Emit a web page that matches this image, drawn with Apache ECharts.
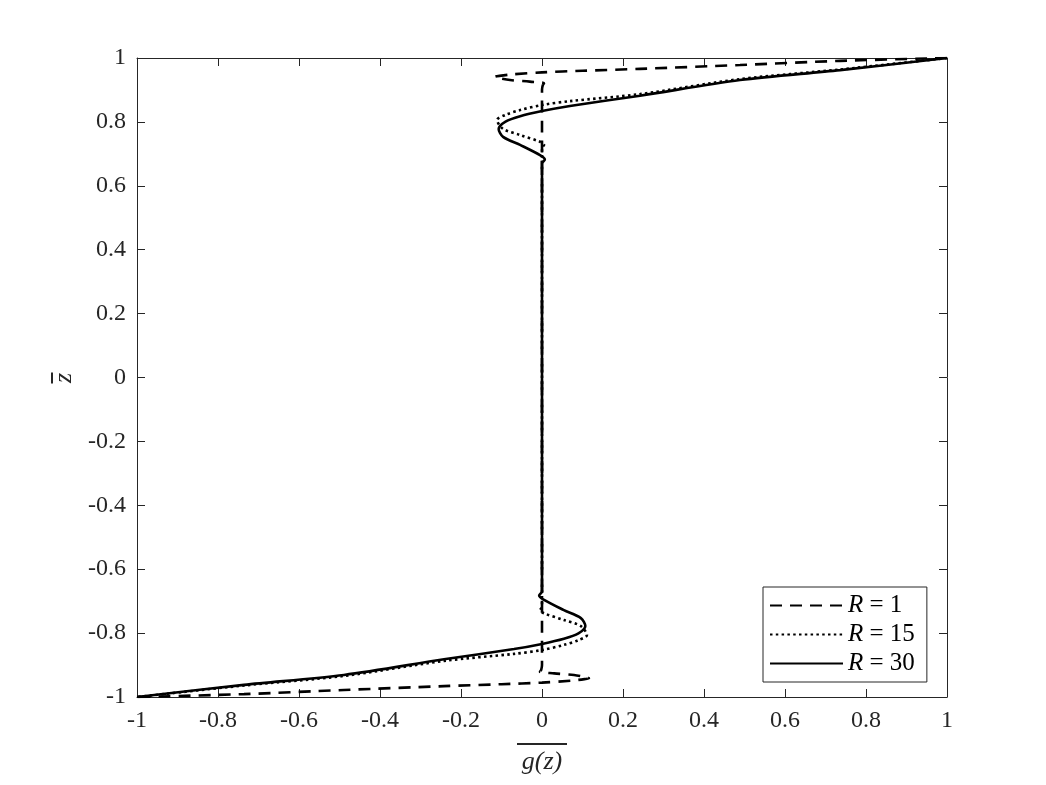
<!DOCTYPE html>
<html>
<head>
<meta charset="utf-8">
<script src="https://cdn.jsdelivr.net/npm/echarts@6/dist/echarts.min.js"></script>
<style>
  html, body { margin: 0; padding: 0; background: #fff; }
  #chart { width: 1046px; height: 785px; }
</style>
</head>
<body>
<div id="chart"></div>
<script>
// series names
const seriesNames = ['R = 1', 'R = 15', 'R = 30']

// R = 1 (dashed): g(z) and z
const gR1 = [1, 0.736, 0.489, 0.242, 0.1, 0, -0.07, -0.105, -0.116, -0.105, -0.079, -0.03, 0.005, 0.002, 0,
  0, -0.002, -0.005, 0.03, 0.079, 0.105, 0.116, 0.105, 0.07, 0, -0.1, -0.242, -0.489, -0.736, -1]
const zR1 = [1, 0.991, 0.978, 0.966, 0.960, 0.955, 0.949, 0.944, 0.941, 0.937, 0.931, 0.926, 0.921, 0.915, 0.9,
  -0.9, -0.915, -0.921, -0.926, -0.931, -0.937, -0.941, -0.944, -0.949, -0.955, -0.960, -0.966, -0.978, -0.991, -1]

// R = 15 (dotted)
const gR15 = [1, 0.736, 0.489, 0.242, 0.069, 0, -0.054, -0.09, -0.111, -0.096, -0.054, -0.005, 0.005, 0,
  0, -0.005, 0.005, 0.054, 0.096, 0.111, 0.09, 0.054, 0, -0.069, -0.242, -0.489, -0.736, -1]
const zR15 = [1, 0.964, 0.934, 0.887, 0.865, 0.853, 0.837, 0.822, 0.806, 0.778, 0.759, 0.738, 0.728, 0.718,
  -0.718, -0.728, -0.738, -0.759, -0.778, -0.806, -0.822, -0.837, -0.853, -0.865, -0.887, -0.934, -0.964, -1]

// R = 30 (solid)
const gR30 = [1, 0.736, 0.489, 0.242, 0.069, 0, -0.054, -0.09, -0.107, -0.096, -0.054, -0.005, 0.007, 0,
  0, -0.007, 0.005, 0.054, 0.096, 0.107, 0.09, 0.054, 0, -0.069, -0.242, -0.489, -0.736, -1]
const zR30 = [1, 0.962, 0.931, 0.882, 0.850, 0.834, 0.818, 0.801, 0.778, 0.753, 0.728, 0.696, 0.682, 0.67,
  -0.67, -0.682, -0.696, -0.728, -0.753, -0.778, -0.801, -0.818, -0.834, -0.850, -0.882, -0.931, -0.962, -1]

const axisMin = -1
const axisMax = 1
const tickStep = 0.2

const pairs = (g, z) => g.map((v, i) => [v, z[i]])

const axisColor = '#262626'
const serif = 'Liberation Serif'
const fmt = v => String(Math.round(v * 10) / 10)

const baseAxis = {
  type: 'value',
  min: axisMin,
  max: axisMax,
  interval: tickStep,
  splitLine: { show: false },
  axisLine: { show: true, onZero: false, lineStyle: { color: axisColor, width: 1 } },
  axisTick: { show: true, inside: true, length: 8, lineStyle: { color: axisColor } }
}

const lineSeries = (idx, g, z, dash) => ({
  name: seriesNames[idx],
  type: 'line',
  data: pairs(g, z),
  showSymbol: false,
  symbol: 'none',
  smooth: 0.3,
  itemStyle: { color: '#000' },
  lineStyle: { color: '#000', width: 2.6, type: dash }
})

const chart = echarts.init(document.getElementById('chart'))

const option = {
  animation: false,
  backgroundColor: '#fff',
  grid: { left: 137, right: 99, top: 58, bottom: 88 },
  xAxis: [
    {
      ...baseAxis,
      position: 'bottom',
      axisLabel: { color: axisColor, fontFamily: serif, fontSize: 24, margin: 12, formatter: fmt },
      name: '{bar|}\n{t|g(z)}',
      nameLocation: 'middle',
      nameGap: 42,
      nameTextStyle: {
        rich: {
          bar: { width: 50, height: 2, backgroundColor: axisColor, lineHeight: 6 },
          t: { fontFamily: serif, fontStyle: 'italic', fontSize: 26, lineHeight: 30, color: axisColor }
        }
      }
    },
    { ...baseAxis, position: 'top', axisLabel: { show: false } }
  ],
  yAxis: [
    {
      ...baseAxis,
      position: 'left',
      axisLabel: { color: axisColor, fontFamily: serif, fontSize: 24, margin: 11, formatter: fmt }
    },
    { ...baseAxis, position: 'right', axisLabel: { show: false } }
  ],
  // y axis name (z with overbar), rotated like the reference
  graphic: [
    {
      type: 'text',
      x: 62,
      y: 378,
      rotation: Math.PI / 2,
      style: {
        text: '{bar|}\n{t|z}',
        align: 'center',
        verticalAlign: 'middle',
        rich: {
          bar: { width: 11, height: 2, backgroundColor: axisColor, lineHeight: 5 },
          t: { fontFamily: serif, fontStyle: 'italic', fontSize: 26, lineHeight: 20, fill: axisColor, color: axisColor }
        }
      }
    }
  ],
  legend: {
    data: seriesNames,
    orient: 'vertical',
    left: 763,
    top: 587,
    padding: [6, 12, 6, 6],
    itemWidth: 73,
    itemHeight: 14,
    itemGap: 4,
    borderColor: axisColor,
    borderWidth: 1,
    borderRadius: 0,
    backgroundColor: '#fff',
    itemStyle: { opacity: 0 },
    formatter: name => '{i|R}' + name.slice(1),
    textStyle: {
      fontFamily: serif,
      fontSize: 25,
      lineHeight: 24,
      color: '#000',
      rich: {
        i: { fontFamily: serif, fontStyle: 'italic', fontSize: 25, color: '#000' }
      }
    }
  },
  series: [
    lineSeries(0, gR1, zR1, [12, 8]),
    lineSeries(1, gR15, zR15, [2.5, 3.3]),
    lineSeries(2, gR30, zR30, 'solid')
  ]
}

chart.setOption(option)
</script>
</body>
</html>
